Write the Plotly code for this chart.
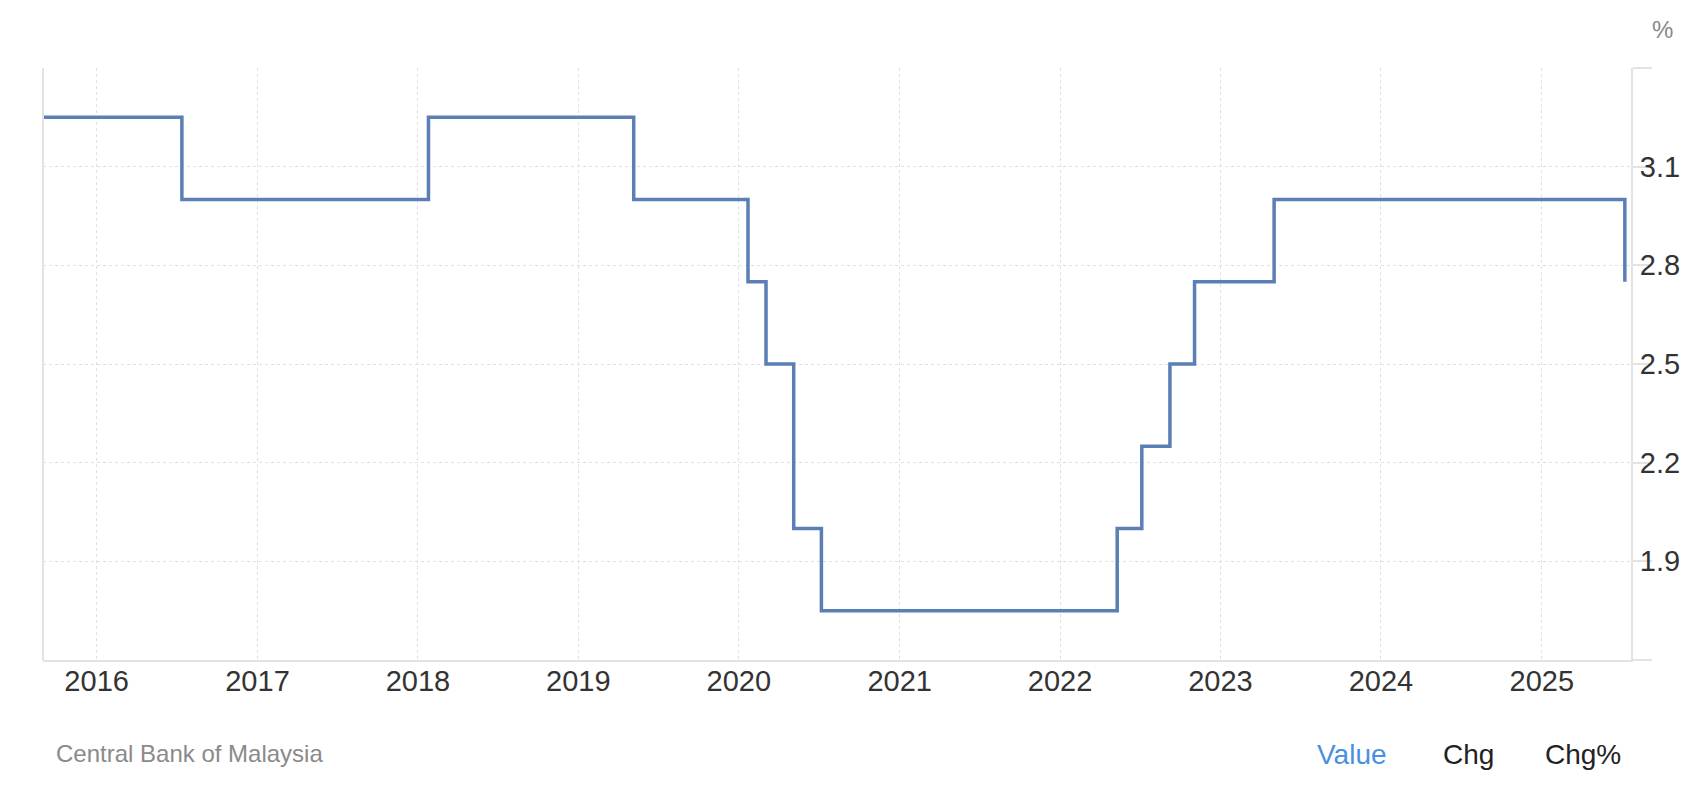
import plotly.graph_objects as go

# Malaysia overnight policy rate decisions (%)
dates = ["2015-07-09", "2016-07-13", "2018-01-25", "2019-05-07", "2020-01-22",
         "2020-03-03", "2020-05-05", "2020-07-07", "2022-05-11", "2022-07-06",
         "2022-09-08", "2022-11-03", "2023-05-03", "2025-07-09"]
rates = [3.25, 3.00, 3.25, 3.00, 2.75, 2.50, 2.00, 1.75, 2.00, 2.25, 2.50, 2.75, 3.00, 2.75]

y_ticks = [1.6, 1.9, 2.2, 2.5, 2.8, 3.1, 3.4]
y_labels = ["", "1.9", "2.2", "2.5", "2.8", "3.1", ""]
x_ticks = [f"{y}-01-01" for y in range(2016, 2026)]
x_labels = [str(y) for y in range(2016, 2026)]

FONT = "Liberation Sans, Arial, Helvetica, sans-serif"
GRID = "#e0e0e0"
AXIS = "#e3e3e3"

# page has an 8px body margin, so the figure is a bit smaller than the window
W, H = 1680, 778
L, R, T, B = 35, 57, 60, 126

fig = go.Figure()
fig.add_trace(go.Scatter(
    x=dates, y=rates, mode="lines", line_shape="hv",
    line=dict(color="#5b7fb4", width=3.5), hoverinfo="skip", showlegend=False
))

fig.update_layout(
    width=W, height=H,
    margin=dict(l=L, r=R, t=T, b=B, autoexpand=False),
    paper_bgcolor="white", plot_bgcolor="white",
    font=dict(family=FONT, color="#333333"),
    xaxis=dict(
        range=["2015-09-01", "2025-07-23"],
        tickvals=x_ticks, ticktext=x_labels,
        tickfont=dict(size=29, color="#333333"),
        showgrid=True, gridcolor=GRID, griddash="dot", gridwidth=1,
        showline=True, linecolor=AXIS, linewidth=2,
        ticks="", zeroline=False, ticklabelstandoff=-6, automargin=False,
    ),
    yaxis=dict(
        range=[1.6, 3.4], side="right",
        tickvals=y_ticks, ticktext=y_labels,
        tickfont=dict(size=29, color="#333333"),
        showgrid=True, gridcolor=GRID, griddash="dot", gridwidth=1,
        showline=True, linecolor=AXIS, linewidth=2,
        ticks="outside", ticklen=19, tickcolor=AXIS, tickwidth=1.5,
        zeroline=False, ticklabelstandoff=-18, automargin=False,
    ),
)

# left frame line
fig.add_shape(type="line", xref="paper", yref="paper", x0=0, x1=0, y0=0, y1=1,
              line=dict(color=AXIS, width=2))

pw = W - L - R
fig.add_annotation(text="%", xref="paper", yref="paper", x=(1654 - L) / pw, y=1.0, yshift=39,
                   xanchor="center", yanchor="middle", showarrow=False,
                   font=dict(size=24, color="#888888"))
fig.add_annotation(text="Central Bank of Malaysia", xref="paper", yref="paper",
                   x=0.0, xshift=11, y=0, yshift=-93, xanchor="left", yanchor="middle",
                   showarrow=False, font=dict(size=24, color="#8a8a8a"))
for label, xc, col in [("Value", 1344, "#4a90e2"), ("Chg", 1460, "#222222"), ("Chg%", 1575, "#222222")]:
    fig.add_annotation(text=label, xref="paper", yref="paper",
                       x=(xc - L) / pw, y=0, yshift=-94,
                       xanchor="center", yanchor="middle", showarrow=False,
                       font=dict(size=28, color=col))

fig.write_html("out.html", config={"displayModeBar": False})
